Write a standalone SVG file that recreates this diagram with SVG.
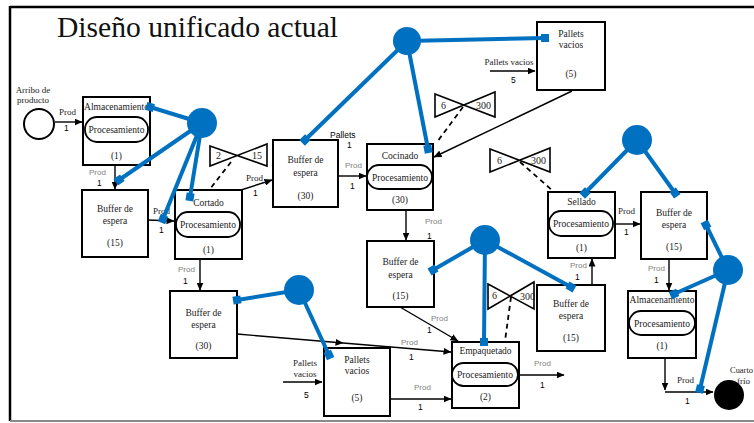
<svg xmlns="http://www.w3.org/2000/svg" width="754" height="423" viewBox="0 0 754 423">
  <style>
    .box { fill: #ffffff; stroke: #000000; stroke-width: 2; }
    .pill { fill: #ffffff; stroke: #000000; stroke-width: 1.8; }
    .t { font-family: "Liberation Serif", "Times New Roman", serif; font-size: 9.5px; fill: #1a1a1a; text-anchor: middle; }
    .lbl { font-family: "Liberation Serif", "Times New Roman", serif; font-size: 9px; fill: #1a1a1a; }
    .prod { font-family: "Liberation Sans", Arial, sans-serif; font-size: 8px; fill: #7f7f7f; }
    .num { font-family: "Liberation Sans", Arial, sans-serif; font-size: 8.5px; fill: #000000; }
    .flow { fill: none; stroke: #000000; stroke-width: 1.4; }
    .dash { fill: none; stroke: #000000; stroke-width: 1.8; stroke-dasharray: 5 4; }
    .res { fill: none; stroke: #0070C0; stroke-width: 4; stroke-linecap: butt; }
    .resnode { fill: #0070C0; }
    .bow { fill: #ffffff; stroke: #000000; stroke-width: 1.6; stroke-linejoin: miter; }
    .bowt { font-family: "Liberation Serif", "Times New Roman", serif; font-size: 10px; fill: #1a1a1a; }
  </style>
  <defs>
    <marker id="arrow" markerUnits="userSpaceOnUse" markerWidth="8" markerHeight="7" refX="7.5" refY="3.5" orient="auto">
      <path d="M0,0 L8,3.5 L0,7 Z" fill="#000000"/>
    </marker>
    <marker id="tip" markerUnits="userSpaceOnUse" markerWidth="9" markerHeight="9" refX="4.5" refY="4.5" orient="auto">
      <rect x="0.5" y="0.5" width="8" height="8" fill="#0070C0"/>
    </marker>
  </defs>

  <!-- frame -->
  <g id="frame">
    <line x1="10" y1="7" x2="754" y2="7" stroke="#000" stroke-width="2.5"/>
    <line x1="10" y1="6" x2="10" y2="421" stroke="#000" stroke-width="2.5"/>
    <line x1="10" y1="421" x2="754" y2="421" stroke="#8a8a8a" stroke-width="2"/>
  </g>

  <text x="57" y="37" font-family="Liberation Serif, Times New Roman, serif" font-size="29" fill="#111" textLength="281" lengthAdjust="spacingAndGlyphs">Diseño unificado actual</text>

  <!-- process flow connectors -->
  <g id="connectors">
    <line class="flow" x1="55" y1="122" x2="82" y2="122" marker-end="url(#arrow)"/>
    <line class="flow" x1="115" y1="165" x2="115" y2="189" marker-end="url(#arrow)"/>
    <line class="flow" x1="148" y1="220" x2="174" y2="221" marker-end="url(#arrow)"/>
    <line class="flow" x1="241" y1="190" x2="272" y2="180" marker-end="url(#arrow)"/>
    <line class="flow" x1="200" y1="259" x2="200" y2="290" marker-end="url(#arrow)"/>
    <line class="flow" x1="338" y1="176" x2="366" y2="176" marker-end="url(#arrow)"/>
    <line class="flow" x1="572" y1="91" x2="434" y2="157" marker-end="url(#arrow)"/>
    <line class="flow" x1="490" y1="71" x2="535" y2="71" marker-end="url(#arrow)"/>
    <line class="flow" x1="406" y1="210" x2="406" y2="240" marker-end="url(#arrow)"/>
    <line class="flow" x1="400" y1="307" x2="458" y2="341" marker-end="url(#arrow)"/>
    <path class="flow" d="M237,334 L343,343 L451,352" marker-mid="url(#arrow)" marker-end="url(#arrow)"/>
    <line class="flow" x1="283" y1="382" x2="322" y2="382" marker-end="url(#arrow)"/>
    <line class="flow" x1="390" y1="399" x2="451" y2="399" marker-end="url(#arrow)"/>
    <line class="flow" x1="519" y1="375" x2="564" y2="375" marker-end="url(#arrow)"/>
    <line class="flow" x1="615" y1="224" x2="640" y2="224" marker-end="url(#arrow)"/>
    <line class="flow" x1="592" y1="285" x2="592" y2="259" marker-end="url(#arrow)"/>
    <line class="flow" x1="669" y1="259" x2="669" y2="290" marker-end="url(#arrow)"/>
    <line class="flow" x1="665" y1="358" x2="665" y2="390" marker-end="url(#arrow)"/>
    <line class="flow" x1="665" y1="392" x2="713" y2="392" marker-end="url(#arrow)"/>

    <!-- queue-limit links -->
    <line class="dash" x1="231" y1="162" x2="210" y2="189"/>
    <line class="dash" x1="463" y1="107" x2="437" y2="142"/>
    <line class="dash" x1="520" y1="162" x2="553" y2="191"/>
    <line class="dash" x1="511" y1="297" x2="505" y2="341"/>

    <!-- flow labels -->
    <text class="lbl" x="59" y="115">Prod</text><text class="num" x="64" y="131">1</text>
    <text class="prod" x="89" y="175">Prod</text><text class="num" x="97" y="186">1</text>
    <text class="lbl" x="153" y="214">Prod</text><text class="num" x="159" y="233">1</text>
    <text class="lbl" x="246" y="181">Prod</text><text class="num" x="253" y="196">1</text>
    <text class="prod" x="178" y="272">Prod</text><text class="num" x="183" y="284">1</text>
    <text class="prod" x="345" y="168">Prod</text><text class="num" x="350" y="189">1</text>
    <text class="num" x="330" y="138">Pallets</text><text class="num" x="347" y="148">1</text>
    <text class="prod" x="425" y="224">Prod</text><text class="num" x="427" y="239">1</text>
    <text class="prod" x="431" y="321">Prod</text><text class="num" x="427" y="333">1</text>
    <text class="prod" x="401" y="345">Prod</text><text class="num" x="409" y="360">1</text>
    <text class="prod" x="414" y="390">Prod</text><text class="num" x="418" y="410">1</text>
    <text class="lbl" x="305" y="366" text-anchor="middle">Pallets</text>
    <text class="lbl" x="305" y="377" text-anchor="middle">vacios</text>
    <text class="num" x="304" y="398">5</text>
    <text class="lbl" x="509" y="65" text-anchor="middle">Pallets vacios</text>
    <text class="num" x="511" y="83">5</text>
    <text class="prod" x="534" y="366">Prod</text><text class="num" x="540" y="388">1</text>
    <text class="lbl" x="618" y="214">Prod</text><text class="num" x="624" y="235">1</text>
    <text class="prod" x="570" y="268">Prod</text><text class="num" x="575" y="280">1</text>
    <text class="prod" x="648" y="271">Prod</text><text class="num" x="654" y="283">1</text>
    <text class="lbl" x="677" y="383">Prod</text><text class="num" x="685" y="404">1</text>
  </g>

  <!-- queue limits -->
  <g id="limit-cortado">
    <polygon class="bow" points="210,146 267,166 267,144 210,166"/>
    <text class="bowt" x="216" y="159">2</text><text class="bowt" x="252" y="159">15</text>
  </g>
  <g id="limit-cocinado">
    <polygon class="bow" points="435,94 495,117 495,92 435,117"/>
    <text class="bowt" x="441" y="109">6</text><text class="bowt" x="476" y="109">300</text>
  </g>
  <g id="limit-sellado">
    <polygon class="bow" points="490,149 550,172 550,148 490,172"/>
    <text class="bowt" x="497" y="164">6</text><text class="bowt" x="531" y="164">300</text>
  </g>
  <g id="limit-empaquetado">
    <polygon class="bow" points="488,284 534,309 534,282 488,309"/>
    <text class="bowt" x="492" y="299">6</text><text class="bowt" x="520" y="300">300</text>
  </g>

  <!-- nodes -->
  <g id="arribo">
    <circle cx="39" cy="124" r="15" fill="#fff" stroke="#000" stroke-width="2"/>
    <text class="lbl" x="33" y="93" text-anchor="middle">Arribo de</text>
    <text class="lbl" x="33" y="103" text-anchor="middle">producto</text>
  </g>
  <g id="almacenamiento-1">
    <rect class="box" x="83" y="97" width="67" height="68"/>
    <text class="t" x="116.5" y="110">Almacenamiento</text>
    <rect class="pill" x="85" y="117" width="63" height="25" rx="12"/>
    <text class="t" x="116.5" y="133">Procesamiento</text>
    <text class="t" x="116.5" y="159">(1)</text>
  </g>
  <g id="buffer-1">
    <rect class="box" x="82" y="190" width="66" height="67"/>
    <text class="t" x="115" y="212">Buffer de</text>
    <text class="t" x="115" y="224">espera</text>
    <text class="t" x="115" y="246">(15)</text>
  </g>
  <g id="cortado">
    <rect class="box" x="175" y="190" width="67" height="69"/>
    <text class="t" x="208.5" y="206">Cortado</text>
    <rect class="pill" x="176" y="212" width="64" height="25" rx="12"/>
    <text class="t" x="208" y="228">Procesamiento</text>
    <text class="t" x="208.5" y="253">(1)</text>
  </g>
  <g id="buffer-2">
    <rect class="box" x="273" y="140" width="65" height="67"/>
    <text class="t" x="305.5" y="163">Buffer de</text>
    <text class="t" x="305.5" y="176">espera</text>
    <text class="t" x="305.5" y="199">(30)</text>
  </g>
  <g id="cocinado">
    <rect class="box" x="367" y="144" width="66" height="66"/>
    <text class="t" x="400" y="159">Cocinado</text>
    <rect class="pill" x="367" y="165" width="65" height="24" rx="12"/>
    <text class="t" x="400" y="181">Procesamiento</text>
    <text class="t" x="400" y="203">(30)</text>
  </g>
  <g id="pallets-1">
    <rect class="box" x="537" y="22" width="68" height="68"/>
    <text class="t" x="571" y="37">Pallets</text>
    <text class="t" x="571" y="48">vacios</text>
    <text class="t" x="571" y="77">(5)</text>
  </g>
  <g id="buffer-3">
    <rect class="box" x="367" y="241" width="67" height="66"/>
    <text class="t" x="400.5" y="265">Buffer de</text>
    <text class="t" x="400.5" y="278">espera</text>
    <text class="t" x="400.5" y="299">(15)</text>
  </g>
  <g id="buffer-4">
    <rect class="box" x="170" y="291" width="67" height="67"/>
    <text class="t" x="203.5" y="316">Buffer de</text>
    <text class="t" x="203.5" y="328">espera</text>
    <text class="t" x="203.5" y="349">(30)</text>
  </g>
  <g id="pallets-2">
    <rect class="box" x="324" y="348" width="66" height="68"/>
    <text class="t" x="357" y="363">Pallets</text>
    <text class="t" x="357" y="374">vacios</text>
    <text class="t" x="357" y="401">(5)</text>
  </g>
  <g id="empaquetado">
    <rect class="box" x="452" y="342" width="67" height="66"/>
    <text class="t" x="485.5" y="354">Empaquetado</text>
    <rect class="pill" x="452" y="363" width="66" height="23" rx="11.5"/>
    <text class="t" x="485" y="378">Procesamiento</text>
    <text class="t" x="485.5" y="400">(2)</text>
  </g>
  <g id="sellado">
    <rect class="box" x="548" y="192" width="67" height="66"/>
    <text class="t" x="581.5" y="205">Sellado</text>
    <rect class="pill" x="549" y="211" width="64" height="25" rx="12"/>
    <text class="t" x="581" y="227">Procesamiento</text>
    <text class="t" x="581.5" y="251">(1)</text>
  </g>
  <g id="buffer-5">
    <rect class="box" x="537" y="285" width="68" height="66"/>
    <text class="t" x="571" y="307">Buffer de</text>
    <text class="t" x="571" y="319">espera</text>
    <text class="t" x="571" y="341">(15)</text>
  </g>
  <g id="buffer-6">
    <rect class="box" x="641" y="192" width="66" height="67"/>
    <text class="t" x="674" y="216">Buffer de</text>
    <text class="t" x="674" y="228">espera</text>
    <text class="t" x="674" y="250">(15)</text>
  </g>
  <g id="almacenamiento-2">
    <rect class="box" x="628" y="291" width="68" height="67"/>
    <text class="t" x="662" y="303">Almacenamiento</text>
    <rect class="pill" x="629" y="311" width="66" height="24" rx="12"/>
    <text class="t" x="662" y="327">Procesamiento</text>
    <text class="t" x="662" y="349">(1)</text>
  </g>
  <g id="cuarto-frio">
    <circle cx="729" cy="395" r="15" fill="#000"/>
    <text class="lbl" x="730" y="373" font-size="8.5" textLength="23" lengthAdjust="spacingAndGlyphs">Cuarto</text>
    <text class="lbl" x="737" y="384" font-size="8.5">frío</text>
  </g>

  <!-- shared resources and their assignments -->
  <g id="resource-links">
    <line class="res" x1="202" y1="123" x2="150" y2="107" marker-end="url(#tip)"/>
    <line class="res" x1="202" y1="123" x2="119" y2="180" marker-end="url(#tip)"/>
    <line class="res" x1="202" y1="123" x2="163" y2="219" marker-end="url(#tip)"/>
    <line class="res" x1="202" y1="123" x2="190" y2="197" marker-end="url(#tip)"/>
    <line class="res" x1="407" y1="41" x2="305" y2="140" marker-end="url(#tip)"/>
    <line class="res" x1="407" y1="41" x2="428" y2="149" marker-end="url(#tip)"/>
    <line class="res" x1="407" y1="41" x2="545" y2="38" marker-end="url(#tip)"/>
    <line class="res" x1="485" y1="240" x2="433" y2="270" marker-end="url(#tip)"/>
    <line class="res" x1="485" y1="240" x2="484" y2="342" marker-end="url(#tip)"/>
    <line class="res" x1="485" y1="240" x2="571" y2="287" marker-end="url(#tip)"/>
    <line class="res" x1="299" y1="290" x2="237" y2="300" marker-end="url(#tip)"/>
    <line class="res" x1="299" y1="290" x2="329" y2="355" marker-end="url(#tip)"/>
    <line class="res" x1="637" y1="140" x2="585" y2="193" marker-end="url(#tip)"/>
    <line class="res" x1="637" y1="140" x2="675" y2="193" marker-end="url(#tip)"/>
    <line class="res" x1="728" y1="270" x2="706" y2="225" marker-end="url(#tip)"/>
    <line class="res" x1="728" y1="270" x2="674" y2="294" marker-end="url(#tip)"/>
    <line class="res" x1="728" y1="270" x2="700" y2="389" marker-end="url(#tip)"/>
  </g>
  <g id="resource-1"><circle class="resnode" cx="202" cy="123" r="15"/></g>
  <g id="resource-2"><circle class="resnode" cx="407" cy="41" r="14"/></g>
  <g id="resource-3"><circle class="resnode" cx="485" cy="240" r="15"/></g>
  <g id="resource-4"><circle class="resnode" cx="299" cy="290" r="15"/></g>
  <g id="resource-5"><circle class="resnode" cx="637" cy="140" r="15"/></g>
  <g id="resource-6"><circle class="resnode" cx="728" cy="270" r="15"/></g>
</svg>
